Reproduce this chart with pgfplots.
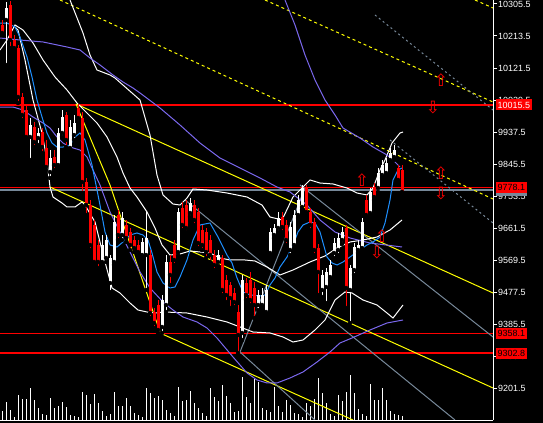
\documentclass[border=0pt]{standalone}
\usepackage{fontspec}
\setmainfont{Liberation Sans}
\newfontfamily\sym{DejaVu Sans}
\usepackage{pgfplots}
\usepackage{pgfplotstable}
\pgfplotsset{compat=1.18}
\definecolor{slate}{HTML}{778899}
\definecolor{maBlue}{HTML}{1E90FF}
\definecolor{maPurple}{HTML}{7B68EE}
\definecolor{cRed}{HTML}{FF0000}
\definecolor{cYel}{HTML}{FFFF00}

\pgfplotstableread{
k bh bl hi lo
0 10245.1 10222.1 10259.5 10216.4
2 10302.5 10202.0 10314.0 10179.0
3 10202.0 10179.0 10216.4 10173.3
4 10179.0 10038.3 10187.6 10021.0
5 10038.3 9986.6 10049.8 9972.2
6 10000.9 9923.4 10015.3 9914.8
8 9952.1 9909.0 9966.5 9894.6
10 9937.7 9894.6 9949.2 9877.4
11 9891.8 9837.2 9914.8 9828.6
13 9865.9 9842.9 9886.0 9828.6
16 9986.6 9914.8 9995.2 9894.6
19 10006.7 9978.0 10018.2 9966.5
20 9978.0 9794.1 9995.2 9762.5
21 9794.1 9728.0 9805.6 9699.3
22 9728.0 9613.1 9742.4 9598.8
23 9670.6 9564.3 9685.0 9555.7
24 9613.1 9564.3 9627.5 9547.1
29 9699.3 9641.9 9713.7 9627.5
31 9670.6 9633.2 9685.0 9621.8
32 9650.5 9613.1 9662.0 9598.8
33 9627.5 9604.5 9639.0 9593.0
34 9613.1 9593.0 9627.5 9584.4
37 9584.4 9417.8 9598.8 9403.4
38 9420.7 9389.1 9432.2 9374.7
39 9440.8 9369.0 9455.2 9360.4
42 9564.3 9527.0 9584.4 9498.2
43 9613.1 9570.1 9627.5 9555.7
45 9719.4 9670.6 9736.7 9656.2
46 9728.0 9662.0 9742.4 9650.5
48 9728.0 9685.0 9742.4 9670.6
49 9707.9 9618.9 9719.4 9604.5
50 9656.2 9613.1 9670.6 9598.8
51 9650.5 9593.0 9662.0 9575.8
52 9627.5 9584.4 9641.9 9564.3
53 9584.4 9555.7 9598.8 9541.3
55 9575.8 9483.9 9584.4 9469.5
56 9512.6 9469.5 9527.0 9449.4
57 9498.2 9460.9 9506.9 9432.2
58 9475.3 9449.4 9489.6 9435.0
59 9420.7 9354.6 9440.8 9302.9
61 9504.0 9469.5 9518.4 9455.2
62 9512.6 9455.2 9535.6 9440.8
63 9489.6 9440.8 9506.9 9403.4
70 9693.6 9664.8 9707.9 9650.5
71 9670.6 9627.5 9685.0 9613.1
76 9776.9 9707.9 9785.5 9699.3
77 9707.9 9670.6 9719.4 9656.2
78 9679.2 9598.8 9690.7 9584.4
79 9604.5 9535.6 9616.0 9469.5
86 9662.0 9489.6 9670.6 9432.2
91 9742.4 9699.3 9756.8 9690.7
93 9779.7 9751.0 9791.2 9742.4
99 9834.3 9799.9 9842.9 9791.2
100 9828.6 9765.4 9842.9 9756.8
}\redc

\pgfplotstableread{
k bh bl hi lo
1 10293.9 10259.5 10311.2 10130.2
7 9957.8 9923.4 9978.0 9857.3
9 9934.9 9920.5 9949.2 9900.4
12 9863.0 9822.8 9886.0 9805.6
14 9934.9 9842.9 9949.2 9834.3
15 9980.8 9934.9 10000.9 9923.4
17 9952.1 9891.8 9972.2 9886.0
18 9963.6 9929.1 9986.6 9914.8
25 9613.1 9564.3 9641.9 9555.7
26 9627.5 9575.8 9641.9 9564.3
27 9575.8 9504.0 9584.4 9478.1
28 9679.2 9564.3 9699.3 9555.7
30 9690.7 9641.9 9707.9 9627.5
35 9621.8 9584.4 9633.2 9575.8
36 9633.2 9584.4 9707.9 9483.9
40 9455.2 9377.6 9469.5 9360.4
41 9564.3 9440.8 9584.4 9420.7
44 9707.9 9593.0 9719.4 9584.4
47 9733.8 9705.1 9748.1 9693.6
54 9584.4 9564.3 9598.8 9552.8
60 9512.6 9360.4 9527.0 9340.3
64 9469.5 9440.8 9483.9 9426.4
65 9469.5 9440.8 9489.6 9432.2
66 9483.9 9420.7 9498.2 9412.1
67 9650.5 9590.2 9662.0 9581.5
68 9662.0 9641.9 9673.5 9633.2
69 9690.7 9662.0 9707.9 9650.5
72 9664.8 9598.8 9679.2 9584.4
73 9699.3 9613.1 9713.7 9604.5
74 9742.4 9699.3 9756.8 9690.7
75 9776.9 9722.3 9785.5 9713.7
80 9527.0 9483.9 9541.3 9463.8
81 9535.6 9492.5 9547.1 9446.5
82 9555.7 9521.2 9570.1 9512.6
83 9618.9 9590.2 9633.2 9575.8
84 9633.2 9598.8 9647.6 9584.4
85 9650.5 9627.5 9664.8 9616.0
87 9547.1 9483.9 9555.7 9389.1
88 9607.4 9541.3 9618.9 9527.0
89 9613.1 9598.8 9627.5 9590.2
90 9679.2 9604.5 9690.7 9598.8
92 9765.4 9705.1 9776.9 9696.4
94 9820.0 9776.9 9834.3 9765.4
95 9842.9 9814.2 9857.3 9805.6
96 9848.7 9820.0 9863.0 9811.3
97 9877.4 9857.3 9891.8 9848.7
98 9886.0 9865.9 9900.4 9857.3
}\whitec

\pgfplotstableread{
k v
0 9
1 18
2 10
3 3
4 25
5 21
6 21
7 32
8 20
9 12
10 6
11 5
12 22
13 12
14 14
15 18
16 13
17 5
18 4
19 3
20 28
21 25
22 16
23 26
24 17
25 9
26 4
27 6
28 28
29 14
30 14
31 22
32 14
33 7
34 5
35 3
36 32
37 27
38 22
39 24
40 20
41 10
42 7
43 4
44 33
45 19
46 20
47 29
48 17
49 12
50 7
51 4
52 32
53 23
54 19
55 35
56 24
57 17
58 8
59 9
60 43
61 23
62 17
63 41
64 38
65 12
66 10
67 8
68 33
69 14
70 8
71 20
72 15
73 7
74 6
75 3
76 17
77 14
78 21
79 42
80 27
81 17
82 6
83 4
84 25
85 19
86 28
87 45
88 27
89 11
90 6
91 4
92 36
93 20
94 20
95 32
96 20
97 9
98 6
99 5
100 4
}\vol

\begin{document}
\begin{tikzpicture}
\path[use as bounding box, fill=black] (0,0) rectangle (543bp,423bp);
\begin{axis}[at={(0,3bp)}, anchor=south west, width=493bp, height=420bp,
  scale only axis, xmin=-0.5, xmax=122.75, ymin=0, ymax=420, hide axis]
\addplot[ycomb, white, line width=1bp, mark=none] table[x=k,y=v] {\vol};
\end{axis}
\begin{axis}[at={(0,3bp)}, anchor=south west, width=493bp, height=420bp,
  scale only axis, xmin=-0.5, xmax=122.75, ymin=9110.45, ymax=10316.9,
  axis x line=bottom, axis y line=right,
  axis line style={-, white, line width=1bp},
  xtick=\empty, scaled y ticks=false,
  ytick={9201.5,9293.5,9385.5,9477.5,9569.5,9661.5,9753.5,9845.5,9937.5,10029.5,10121.5,10213.5,10305.5},
  tick style={white, line width=1bp}, major tick length=4bp, tick align=outside,
  yticklabel={\pgfmathprintnumber[fixed, fixed zerofill, precision=1, 1000 sep={}, assume math mode=true]{\tick}},
  yticklabel style={text=white, font=\fontsize{9}{10}\selectfont, inner sep=1bp},
]
% horizontal levels
\addplot[cRed, line width=1.4bp] coordinates {(-0.5,10015.5) (122.75,10015.5)};
\addplot[slate, line width=1.4bp] coordinates {(-0.5,9771.1) (122.75,9771.1)};
\addplot[cRed, line width=1.4bp] coordinates {(-0.5,9778.1) (122.75,9778.1)};
\addplot[cRed, line width=1.4bp] coordinates {(-0.5,9358.1) (122.75,9358.1)};
\addplot[cRed, line width=1.4bp] coordinates {(-0.5,9302.8) (122.75,9302.8)};
% trend lines
\addplot[cYel, line width=1bp] coordinates {(18.5,10018.2) (122.75,9475.3)};
\addplot[cYel, line width=1bp] coordinates {(18.5,10018.2) (27,9785.5) (39.5,9363.2)};
\addplot[cYel, line width=1bp] coordinates {(12,9779.7) (122.75,9202.4)};
\addplot[cYel, line width=1bp] coordinates {(39.5,9360.4) (87.75,9110.45)};
\addplot[cYel, line width=1bp, dash pattern=on 3bp off 3bp] coordinates {(14.5,10316.9) (122.75,9745.3)};
\addplot[cYel, line width=1bp, dash pattern=on 3bp off 3bp] coordinates {(65.75,10316.9) (122.75,10023.9)};
\addplot[cYel, line width=1bp, dash pattern=on 3bp off 3bp] coordinates {(118.25,10316.9) (122.75,10293.9)};
\addplot[slate, line width=1bp, dash pattern=on 2bp off 3bp] coordinates {(93.25,10273.8) (122.75,10000.9)};
\addplot[slate, line width=1bp, dash pattern=on 2bp off 3bp] coordinates {(97,9914.8) (122.75,9676.4)};
\addplot[slate, line width=1bp] coordinates {(45.75,9742.4) (113.25,9110.45)};
\addplot[slate, line width=1bp] coordinates {(74.5,9785.5) (122.75,9348.9)};
\addplot[slate, line width=1bp] coordinates {(59.5,9305.8) (75.75,9776.9)};
\addplot[slate, line width=1bp] coordinates {(59.5,9305.8) (78.25,9110.45)};
% bands
\addplot[white, line width=1bp] coordinates {(17,10316.9) (20.25,10222.1) (22,10158.9) (23.75,10115.8) (27,10101.5) (28.25,10092.8) (34.5,10029.6) (37,9929.1) (38.75,9814.2) (40.25,9756.8) (42.75,9730.9) (44.5,9728.0) (46.25,9748.2) (47.75,9774.0) (51.25,9771.1) (56.25,9762.5) (61.25,9751.0) (65,9728.0) (67,9693.6) (70,9685.0) (72.75,9751.0) (75.25,9779.7) (77,9799.9) (79.5,9791.2) (82.75,9788.4) (86.25,9776.9) (88.75,9762.5) (91.25,9756.8) (92.75,9776.9) (94.5,9828.6) (95.75,9857.3) (97.5,9906.1) (99.5,9934.9) (100.25,9937.7)};
\addplot[white, line width=1bp] coordinates {(-0.5,10173.3) (1.25,10202.0) (3.25,10245.1) (5.25,10230.7) (7.75,10193.4) (10.25,10144.6) (13.25,10095.7) (16.25,10058.4) (18.75,10021.0) (21.25,9992.3) (23.75,9963.6) (26.25,9923.4) (28.75,9865.9) (30.25,9820.0) (32,9776.9) (33.75,9751.0) (36.25,9707.9) (38.25,9662.0) (40,9613.2) (42,9584.4) (44.5,9587.3) (47,9595.9) (49.5,9593.1) (52,9590.2) (54.5,9575.9) (57,9570.1) (60.75,9570.1) (63.25,9567.2) (66.25,9550.0) (69.5,9527.0) (72.75,9541.3) (77,9564.4) (80.75,9581.6) (83.75,9604.6) (87,9621.8) (90.25,9627.5) (93.75,9636.1) (97,9656.3) (100,9685.0)};
\addplot[white, line width=1bp] coordinates {(3.25,10239.3) (4,10230.7) (5.75,10144.6) (7.75,10029.6) (10,9934.9) (11.25,9857.3) (12,9779.7) (12.75,9751.0) (15,9733.8) (16.25,9722.3) (18.25,9722.3) (20,9736.7) (20.75,9728.0) (23.25,9679.2) (25.75,9564.4) (27.5,9489.7) (29.5,9475.3) (32,9446.5) (34,9426.4) (36.25,9420.7) (38.25,9417.8) (40.75,9420.7) (46.25,9417.8) (51.25,9406.3) (56.25,9392.0) (59.5,9377.6) (62.75,9363.2) (67,9360.4) (70.25,9348.9) (72.75,9334.5) (75.25,9340.3) (78.25,9369.0) (80.75,9397.7) (83.25,9455.2) (85.75,9478.2) (87.5,9475.3) (90.25,9455.2) (93.75,9440.8) (96.25,9417.8) (97.75,9403.4) (100.25,9440.8)};
% moving averages
\addplot[maPurple, line width=1bp] coordinates {(-0.5,10207.7) (4.5,10202.0) (10.25,10196.3) (16.25,10181.9) (19.5,10173.3) (22,10150.3) (24.5,10130.2) (27.75,10101.5) (30.25,10081.4) (32.75,10064.1) (34.5,10049.8) (39.5,10006.7) (44.5,9957.8) (49.5,9906.1) (54.5,9863.0) (59.5,9834.3) (64.5,9805.6) (68.75,9779.7) (72,9765.4) (76.25,9728.0) (79.5,9685.0) (83.25,9650.5) (87,9633.3) (92,9618.9) (100,9607.4)};
\addplot[maPurple, line width=1bp] coordinates {(-0.5,10009.5) (2.75,10009.5) (5.25,10000.9) (7.75,9980.8) (10.25,9963.6) (12,9949.2) (13.75,9923.4) (15.25,9906.1) (17,9894.6) (19.5,9886.0) (21.25,9865.9) (22.75,9828.6) (24.5,9785.5) (27,9707.9) (29.5,9650.5) (32,9593.1) (34.5,9535.6) (37,9489.7) (40.25,9449.4) (42.75,9426.4) (45.25,9406.3) (48.75,9392.0) (51.25,9374.7) (53.75,9346.0) (57.75,9291.4) (61.25,9245.5) (63.75,9225.4) (66.25,9216.8) (68.75,9216.8) (72,9231.1) (75.25,9248.4) (78.75,9277.0) (82,9305.8) (84.5,9331.7) (87.5,9346.0) (92,9369.0) (96.25,9389.1) (100.25,9397.7)};
\addplot[maPurple, line width=1bp] coordinates {(70.75,10316.9) (73.25,10245.1) (75.75,10158.9) (78.25,10087.1) (80.75,10029.6) (83.25,9986.6) (85.25,9949.2) (89.5,9920.5) (92.75,9894.6) (96.25,9871.7) (98.25,9851.6) (99.5,9837.2)};
\addplot[maBlue, line width=1bp] coordinates {(-0.5,10250.8) (1.25,10250.8) (3.25,10239.3) (4.5,10210.6) (6.25,10153.2) (7.5,10095.7) (8.75,10029.6) (10,9980.8) (11.25,9934.9) (12.5,9906.1) (13.75,9894.6) (15.25,9894.6) (17,9900.4) (18.25,9923.4) (19.5,9934.9) (20.75,9914.8) (22.5,9842.9) (23.75,9771.1) (24.5,9728.0) (25.75,9650.5) (27,9613.2) (28.75,9607.4) (30.25,9621.8) (32,9641.9) (33.75,9647.6) (35.25,9641.9) (36.5,9627.5) (37.5,9590.2) (38.75,9535.6) (40.25,9504.0) (42,9489.7) (43.25,9492.5) (44.5,9521.2) (46.25,9570.1) (47.75,9627.5) (49.5,9670.6) (52,9676.4) (54,9636.1) (56.25,9584.4) (57.5,9561.5) (58.75,9518.4) (60.25,9478.2) (62,9469.6) (64.5,9466.7) (65.75,9469.6) (67,9498.3) (68.25,9518.4) (69.5,9550.0) (71.25,9578.7) (72.75,9613.2) (74,9650.5) (75.25,9670.6) (77,9679.2) (78.25,9676.4) (79.5,9650.5) (81.25,9578.7) (82.5,9561.5) (83.75,9555.8) (85.25,9564.4) (87,9578.7) (88.75,9593.1) (91.25,9613.2) (92.75,9621.8) (94.5,9636.1) (95.75,9676.4) (97,9742.4) (97.75,9799.9) (99,9828.6) (100,9834.3)};
% candles: wicks and bodies
\addplot[only marks, mark=none, error bars/.cd, y dir=plus, y explicit, error mark=none,
  error bar style={draw=cRed, line width=1bp}]
  table[x=k, y=lo, y error plus expr=\thisrow{hi}-\thisrow{lo}] {\redc};
\addplot[only marks, mark=none, error bars/.cd, y dir=plus, y explicit, error mark=none,
  error bar style={draw=cRed, line width=3bp}]
  table[x=k, y=bl, y error plus expr=\thisrow{bh}-\thisrow{bl}] {\redc};
\addplot[only marks, mark=none, error bars/.cd, y dir=plus, y explicit, error mark=none,
  error bar style={draw=white, line width=1bp}]
  table[x=k, y=lo, y error plus expr=\thisrow{hi}-\thisrow{lo}] {\whitec};
\addplot[only marks, mark=none, error bars/.cd, y dir=plus, y explicit, error mark=none,
  error bar style={draw=white, line width=3bp}]
  table[x=k, y=bl, y error plus expr=\thisrow{bh}-\thisrow{bl}] {\whitec};
% arrows
\tikzset{arr/.style={text=cRed, font=\sym\fontsize{17}{17}\selectfont, inner sep=0pt}}
\node[arr] at (axis cs:90,9799.9) {⇧};
\node[arr] at (axis cs:95,9639.0) {⇧};
\node[arr] at (axis cs:93.75,9590.2) {⇩};
\node[arr] at (axis cs:109.75,10087.1) {⇧};
\node[arr] at (axis cs:107.75,10006.7) {⇩};
\node[arr] at (axis cs:109.75,9820.0) {⇧};
\node[arr] at (axis cs:109.75,9759.6) {⇩};
\coordinate (lA) at (axis cs:123.5,10015.5);
\coordinate (lB) at (axis cs:123.5,9778.1);
\coordinate (lG) at (axis cs:123.5,9771.1);
\coordinate (lC) at (axis cs:123.5,9358.1);
\coordinate (lD) at (axis cs:123.5,9302.8);
\end{axis}
\tikzset{lbl/.style={anchor=west, inner xsep=1.5bp, inner ysep=0pt, minimum height=11bp, font=\fontsize{9}{10}\selectfont}}
\node[lbl, fill=slate, text=slate] at (lG) {9771.1};
\node[lbl, fill=cRed, text=white] at (lA) {10015.5};
\node[lbl, fill=cRed, text=black] at (lB) {9778.1};
\node[lbl, fill=cRed, text=black] at (lC) {9358.1};
\node[lbl, fill=cRed, text=black] at (lD) {9302.8};
\end{tikzpicture}
\end{document}
